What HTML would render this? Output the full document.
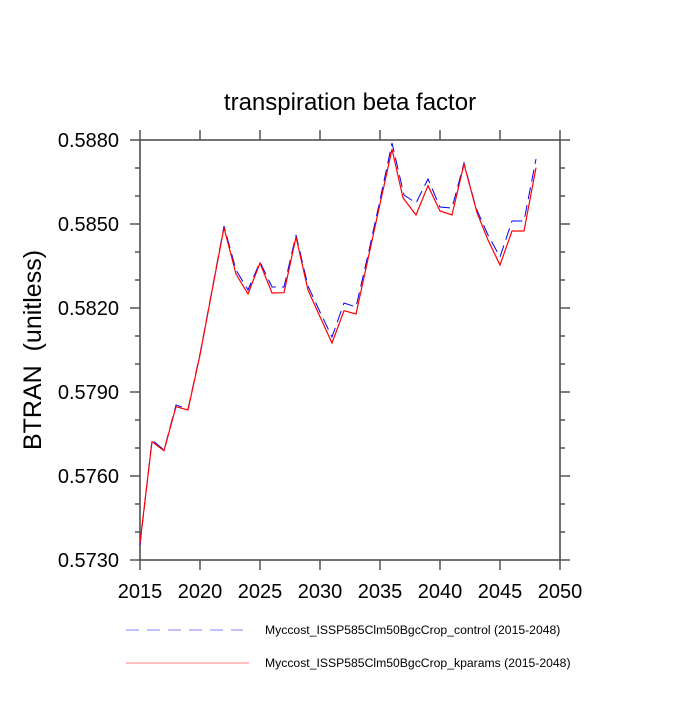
<!DOCTYPE html>
<html><head><meta charset="utf-8"><style>body{margin:0;background:#fff}</style></head><body>
<svg width="700" height="700" xmlns="http://www.w3.org/2000/svg" font-family="Liberation Sans, sans-serif">
<rect width="700" height="700" fill="#fff"/>
<text x="350" y="110" font-size="24" text-anchor="middle">transpiration beta factor</text>
<text transform="translate(41,350) rotate(-90)" font-size="25" text-anchor="middle">BTRAN &#160;(unitless)</text>
<g stroke="#555" stroke-width="1.5" fill="none">
<rect x="140" y="140" width="420" height="420" stroke="#444"/>
<path d="M140,560v10M200,560v10M260,560v10M320,560v10M380,560v10M440,560v10M500,560v10M560,560v10
M140,140v-10M200,140v-10M260,140v-10M320,140v-10M380,140v-10M440,140v-10M500,140v-10M560,140v-10
M140,140h-10M140,224h-10M140,308h-10M140,392h-10M140,476h-10M140,560h-10
M560,140h10M560,224h10M560,308h10M560,392h10M560,476h10M560,560h10
M140,168h-5M140,196h-5M140,252h-5M140,280h-5M140,336h-5M140,364h-5M140,420h-5M140,448h-5M140,504h-5M140,532h-5
M560,168h5M560,196h5M560,252h5M560,280h5M560,336h5M560,364h5M560,420h5M560,448h5M560,504h5M560,532h5"/>
</g>
<g font-size="20" text-anchor="end">
<text x="119" y="147">0.5880</text><text x="119" y="231">0.5850</text><text x="119" y="315">0.5820</text>
<text x="119" y="399">0.5790</text><text x="119" y="483">0.5760</text><text x="119" y="567">0.5730</text>
</g>
<g font-size="20" text-anchor="middle">
<text x="140" y="598">2015</text><text x="200" y="598">2020</text><text x="260" y="598">2025</text><text x="320" y="598">2030</text>
<text x="380" y="598">2035</text><text x="440" y="598">2040</text><text x="500" y="598">2045</text><text x="560" y="598">2050</text>
</g>
<polyline fill="none" stroke="#0000ff" stroke-width="1" stroke-dasharray="12,6" points="140,545 152,440 164,450 176,405 188,409 200,354 212,290 224,226 236,270 248,290 260,262 272,287 284,287 296,235 308,286 320,312 332,337 344,303 356,307 368,255 380,200 392,143 404,195 416,203 428,179 440,207 452,208 464,163 476,208 488,235 500,257 512,221 524,221 536,159"/>
<polyline fill="none" stroke="#ff0000" stroke-width="1.2" points="140,543 152,441.7 164,450.7 176,406.7 188,410 200,355 212,291 224,227.7 236,274 248,294 260,263 272,293 284,292.7 296,237 308,290 320,316.7 332,343 344,310.7 356,314 368,259 380,204 392,149.3 403,197.7 416,215 428,185.7 440,211 452,215 464,164 477,212.7 488,240 500,265 512,231 524,231 536,167.7"/>
<line x1="126" y1="630" x2="243" y2="630" stroke="#8080ff" stroke-width="1" stroke-dasharray="13,8"/>
<line x1="126" y1="663" x2="249" y2="663" stroke="#ff8080" stroke-width="1"/>
<g font-size="12.2">
<text x="265" y="634">Myccost_ISSP585Clm50BgcCrop_control (2015-2048)</text>
<text x="265" y="667">Myccost_ISSP585Clm50BgcCrop_kparams (2015-2048)</text>
</g>
</svg>
</body></html>
